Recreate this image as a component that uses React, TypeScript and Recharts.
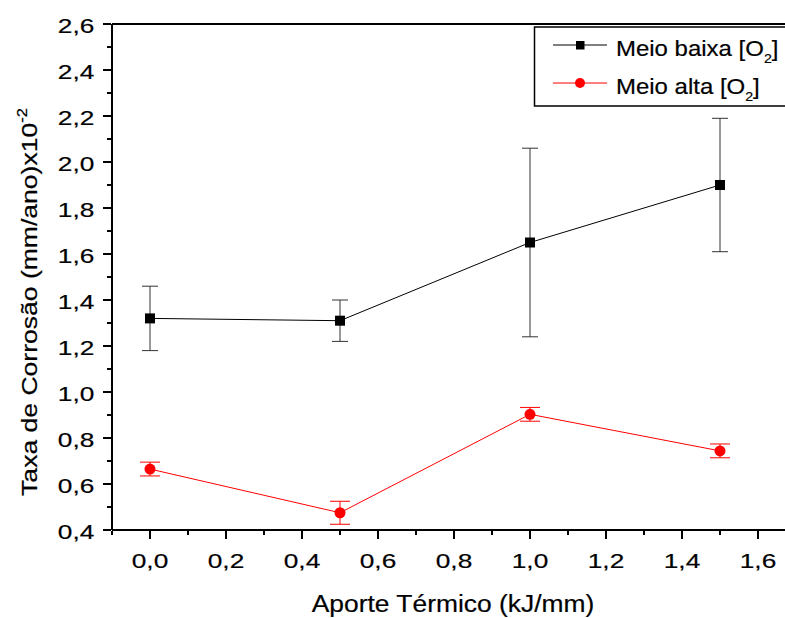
import React from "react";
import { LineChart, Line, XAxis, YAxis, ErrorBar, ReferenceLine, Label } from "recharts";

// ---- data ----
const heatInput = [0.0, 0.5, 1.0, 1.5];
const lowO2 = [1.32, 1.31, 1.65, 1.9];
const lowO2Err = [0.14, 0.09, 0.41, 0.29];
const highO2 = [0.665, 0.475, 0.903, 0.744];
const highO2Err = [0.03, 0.05, 0.03, 0.03];

const seriesNames = ["Meio baixa [O", "Meio alta [O"];
const xTicks = [-0.1, 0.0, 0.1, 0.2, 0.3, 0.4, 0.5, 0.6, 0.7, 0.8, 0.9, 1.0, 1.1, 1.2, 1.3, 1.4, 1.5, 1.6, 1.7];
const yTicks = [0.4, 0.5, 0.6, 0.7, 0.8, 0.9, 1.0, 1.1, 1.2, 1.3, 1.4, 1.5, 1.6, 1.7, 1.8, 1.9, 2.0, 2.1, 2.2, 2.3, 2.4, 2.5, 2.6];
const xTitle = "Aporte Térmico (kJ/mm)";
const yTitle = "Taxa de Corrosão (mm/ano)x10";
const yTitleSup = "-2";

const data = heatInput.map((x, i) => ({
  x,
  low: lowO2[i],
  lowErr: lowO2Err[i],
  high: highO2[i],
  highErr: highO2Err[i],
}));

const FONT = "'Liberation Sans', Arial, sans-serif";
const TEXT_STROKE = { stroke: "#000", strokeWidth: 0.2 };
const isMajor = (v: number) => Math.abs(Math.round(v * 10) % 2) === 0;
const fmt = (v: number) => v.toFixed(1).replace(".", ",");

const XTick = (props: any) => {
  const { x, y, payload } = props;
  const major = isMajor(payload.value);
  return (
    <g>
      <line x1={x} x2={x} y1={y + 1} y2={y + 1 + (major ? 8 : 4)} stroke="#000" strokeWidth={2} />
      {major && (
        <text
          transform={`translate(${x},${y + 38.3}) scale(1.25,1)`}
          textAnchor="middle"
          fontSize={21}
          fontFamily={FONT}
          fill="#000"
          {...TEXT_STROKE}
        >
          {fmt(payload.value)}
        </text>
      )}
    </g>
  );
};

const YTick = (props: any) => {
  const { x, y, payload } = props;
  const major = isMajor(payload.value);
  return (
    <g>
      <line x1={x - 1} x2={x - 1 - (major ? 8 : 4)} y1={y} y2={y} stroke="#000" strokeWidth={2} />
      {major && (
        <text
          transform={`translate(${x - 17.7},${y + 9}) scale(1.25,1)`}
          textAnchor="end"
          fontSize={21}
          fontFamily={FONT}
          fill="#000"
          {...TEXT_STROKE}
        >
          {fmt(payload.value)}
        </text>
      )}
    </g>
  );
};

const SquareDot = (p: any) => (
  <rect key={`sq-${p.index}`} x={p.cx - 5} y={p.cy - 5} width={10} height={10} fill="#000" />
);

const CircleDot = (p: any) => (
  <circle key={`ci-${p.index}`} cx={p.cx} cy={p.cy} r={5.5} fill="#ff0000" />
);

const XTitle = () => (
  <text
    transform={`translate(453,611.7) scale(1.1,1)`}
    textAnchor="middle"
    fontSize={24}
    fontFamily={FONT}
    fill="#000"
    {...TEXT_STROKE}
  >
    {xTitle}
  </text>
);

const YTitle = () => (
  <text
    transform={`translate(37,302) rotate(-90) scale(1.18,1)`}
    textAnchor="middle"
    fontSize={22.5}
    fontFamily={FONT}
    fill="#000"
    {...TEXT_STROKE}
  >
    {yTitle}
    <tspan fontSize={14} dy={-10}>
      {yTitleSup}
    </tspan>
  </text>
);

const LegendBox = () => (
  <svg
    width={785}
    height={618}
    style={{ position: "absolute", left: 0, top: 0, pointerEvents: "none" }}
  >
    <rect x={534.5} y={27} width={270} height={79} fill="#fff" stroke="#000" strokeWidth={1.5} />
    <line x1={553} x2={607} y1={45} y2={45} stroke="#000" strokeWidth={1} />
    <rect x={576} y={41} width={8.5} height={8.5} fill="#000" />
    <text transform="translate(616,56) scale(1.09,1)" fontSize={22} fontFamily={FONT} fill="#000" {...TEXT_STROKE}>
      {seriesNames[0]}
      <tspan fontSize={13} dy={7}>2</tspan>
      <tspan dy={-7}>]</tspan>
    </text>
    <line x1={553} x2={607} y1={83} y2={83} stroke="#ff0000" strokeWidth={1} />
    <circle cx={580} cy={83} r={5} fill="#ff0000" />
    <text transform="translate(616,94) scale(1.09,1)" fontSize={22} fontFamily={FONT} fill="#000" {...TEXT_STROKE}>
      {seriesNames[1]}
      <tspan fontSize={13} dy={7}>2</tspan>
      <tspan dy={-7}>]</tspan>
    </text>
  </svg>
);

export default function App() {
  return (
    <div
      style={{
        position: "absolute",
        left: 0,
        top: 0,
        width: 785,
        height: 618,
        overflow: "hidden",
        background: "#fff",
      }}
    >
      <LineChart
        width={810}
        height={618}
        data={data}
        margin={{ top: 24, right: 14, bottom: 0, left: 0 }}
      >
        <XAxis
          type="number"
          dataKey="x"
          domain={[-0.1, 1.7]}
          ticks={xTicks}
          interval={0}
          allowDataOverflow
          height={88}
          tickSize={0}
          tickMargin={0}
          tickLine={false}
          axisLine={{ stroke: "#000", strokeWidth: 2 }}
          tick={<XTick />}
        >
          <Label content={<XTitle />} />
        </XAxis>
        <YAxis
          type="number"
          domain={[0.4, 2.6]}
          ticks={yTicks}
          interval={0}
          allowDataOverflow
          width={112}
          tickSize={0}
          tickMargin={0}
          tickLine={false}
          axisLine={{ stroke: "#000", strokeWidth: 2 }}
          tick={<YTick />}
        >
          <Label content={<YTitle />} />
        </YAxis>
        <ReferenceLine y={2.6} stroke="#000" strokeWidth={2} />
        <Line
          dataKey="low"
          stroke="#000"
          strokeWidth={1}
          isAnimationActive={false}
          dot={SquareDot}
          activeDot={false}
        >
          <ErrorBar dataKey="lowErr" direction="y" width={8} stroke="#333" strokeWidth={1} isAnimationActive={false} />
        </Line>
        <Line
          dataKey="high"
          stroke="#ff0000"
          strokeWidth={1}
          isAnimationActive={false}
          dot={CircleDot}
          activeDot={false}
        >
          <ErrorBar dataKey="highErr" direction="y" width={10} stroke="#ff0000" strokeWidth={1} isAnimationActive={false} />
        </Line>
      </LineChart>
      <LegendBox />
    </div>
  );
}
